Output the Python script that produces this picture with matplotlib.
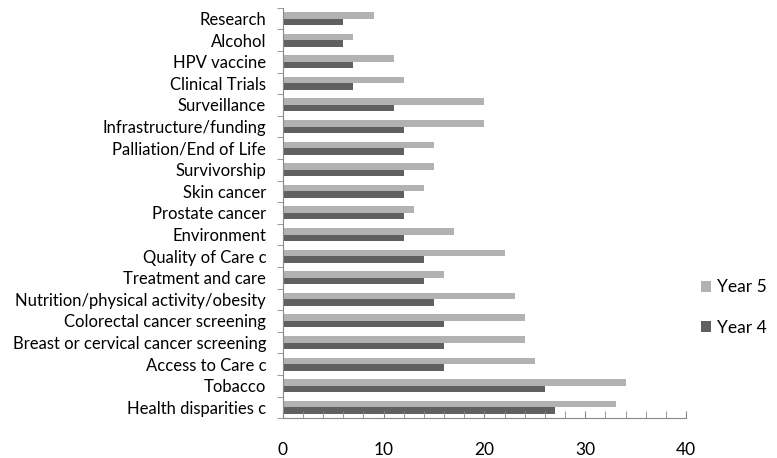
import numpy as np
import matplotlib
matplotlib.use("Agg")
import matplotlib.pyplot as plt
import matplotlib.ticker as ticker

plt.rcParams["font.family"] = ["Lato", "DejaVu Sans"]

# bottom to top
categories = [
    "Health disparities c",
    "Tobacco",
    "Access to Care c",
    "Breast or cervical cancer screening",
    "Colorectal cancer screening",
    "Nutrition/physical activity/obesity",
    "Treatment and care",
    "Quality of Care c",
    "Environment",
    "Prostate cancer",
    "Skin cancer",
    "Survivorship",
    "Palliation/End of Life",
    "Infrastructure/funding",
    "Surveillance",
    "Clinical Trials",
    "HPV vaccine",
    "Alcohol",
    "Research",
]
year4 = [27, 26, 16, 16, 16, 15, 14, 14, 12, 12, 12, 12, 12, 12, 11, 7, 7, 6, 6]
year5 = [33, 34, 25, 24, 24, 23, 16, 22, 17, 13, 14, 15, 15, 20, 20, 12, 11, 7, 9]

LIGHT = "#b2b2b2"
DARK = "#606060"

fig = plt.figure(figsize=(7.77, 4.58), dpi=100)
ax = fig.add_axes([0.364, 0.087, 0.519, 0.896])

y = np.arange(len(categories))
h = 0.3
b4 = ax.barh(y - h / 2, year4, height=h, color=DARK, label="Year 4")
b5 = ax.barh(y + h / 2, year5, height=h, color=LIGHT, label="Year 5")

ax.set_ylim(-0.5, len(categories) - 0.5)
ax.set_xlim(0, 40)

ax.set_yticks(y)
ax.set_yticklabels(categories, fontsize=12)
ax.yaxis.set_minor_locator(ticker.FixedLocator(np.arange(-0.5, len(categories), 1)))
ax.tick_params(axis="y", which="major", length=0, pad=12)
ax.tick_params(axis="y", which="minor", length=4, direction="out", color="#888888")

ax.xaxis.set_major_locator(ticker.MultipleLocator(10))
ax.xaxis.set_minor_locator(ticker.MultipleLocator(2))
ax.tick_params(axis="x", which="major", length=5, direction="in", color="#888888",
               labelsize=12.5, pad=17)
ax.tick_params(axis="x", which="minor", length=5, direction="in", color="#888888")

for s in ["top", "right"]:
    ax.spines[s].set_visible(False)
for s in ["left", "bottom"]:
    ax.spines[s].set_color("#888888")

fig.legend(handles=[b5, b4], loc="upper left", bbox_to_anchor=(0.902, 0.39),
           frameon=False, fontsize=12.5, handlelength=0.6, handleheight=0.6,
           handletextpad=0.35, labelspacing=1.4, borderpad=0, borderaxespad=0)

fig.savefig("out.png", dpi=100, facecolor="white")
